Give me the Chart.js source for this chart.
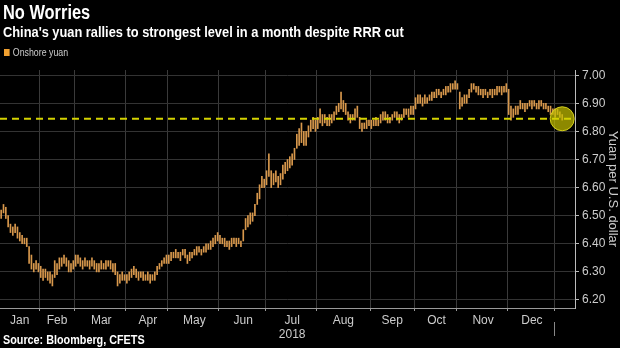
<!DOCTYPE html>
<html>
<head>
<meta charset="utf-8">
<script src="https://cdn.jsdelivr.net/npm/chart.js@4.4.1/dist/chart.umd.min.js"></script>
<style>
  body { margin: 0; background: #000; }
  #wrap { position: relative; width: 620px; height: 348px; overflow: hidden; font-family: 'Liberation Sans', Arial, sans-serif; }
  #grafico { position: absolute; left: 0; top: 0; }
  .titulo, .sub, .legenda, .fonte { position: absolute; white-space: nowrap; transform-origin: 0 0; }
  .titulo { left: 3px; top: 1px; color: #fff; font-weight: bold; font-size: 20px; transform: scaleX(0.82); }
  .sub { left: 3px; top: 23px; color: #fff; font-weight: bold; font-size: 15px; transform: scaleX(0.855); }
  .legenda { left: 4px; top: 46px; color: #ccc; font-size: 11px; transform: scaleX(0.8); }
  .legenda span { display: inline-block; width: 7px; height: 7px; background: #f0a030; margin-right: 4px; }
  .fonte { left: 3px; top: 333px; color: #fff; font-weight: bold; font-size: 12px; transform: scaleX(0.9); }
</style>
</head>
<body>
<div id="wrap">
  <canvas id="grafico" width="620" height="348"></canvas>
  <div class="titulo">No Worries</div>
  <div class="sub">China's yuan rallies to strongest level in a month despite RRR cut</div>
  <div class="legenda"><span></span>Onshore yuan</div>
  <div class="fonte">Source: Bloomberg, CFETS</div>
</div>
<script>
// trading days per month, Jan 2018 .. early Jan 2019
const meses = ["Jan", "Feb", "Mar", "Apr", "May", "Jun", "Jul", "Aug", "Sep", "Oct", "Nov", "Dec", "Jan"];
const diasUteis = [17, 15, 22, 18, 22, 20, 22, 23, 19, 18, 22, 20, 4];
const diasVazios = 5; // empty room at the right end of the axis

// daily low / high, yuan per dollar
const minimas = [
  6.49,6.51,6.49,6.46,6.44,6.43,6.44,6.42,6.41,6.40,6.40,6.39,6.33,6.31,6.30,6.31,6.30,
  6.28,6.27,6.28,6.27,6.26,6.25,6.28,6.29,6.31,6.32,6.33,6.32,6.30,6.30,6.31,
  6.32,6.33,6.32,6.31,6.32,6.32,6.31,6.32,6.31,6.30,6.30,6.31,6.31,6.31,6.32,6.31,6.30,6.29,6.25,6.26,6.27,6.27,
  6.26,6.27,6.28,6.29,6.28,6.27,6.28,6.27,6.27,6.27,6.26,6.27,6.27,6.29,6.31,6.32,6.33,6.33,
  6.33,6.34,6.35,6.35,6.35,6.34,6.36,6.35,6.33,6.34,6.35,6.36,6.36,6.37,6.36,6.37,6.37,6.38,6.38,6.39,6.40,6.41,
  6.40,6.40,6.39,6.39,6.38,6.39,6.40,6.39,6.40,6.39,6.41,6.45,6.46,6.47,6.48,6.50,6.54,6.56,6.60,6.60,
  6.61,6.64,6.60,6.61,6.62,6.60,6.61,6.63,6.65,6.66,6.67,6.68,6.70,6.74,6.75,6.76,6.75,6.75,6.78,6.80,6.81,6.80,
  6.81,6.83,6.82,6.83,6.82,6.82,6.83,6.84,6.86,6.87,6.88,6.87,6.86,6.84,6.83,6.84,6.84,6.85,6.81,6.80,6.81,6.81,6.82,
  6.81,6.82,6.82,6.82,6.83,6.84,6.84,6.83,6.83,6.84,6.85,6.84,6.83,6.84,6.85,6.86,6.85,6.86,6.86,
  6.88,6.90,6.90,6.89,6.90,6.90,6.91,6.91,6.92,6.92,6.93,6.92,6.93,6.93,6.94,6.94,6.95,6.95,
  6.95,6.88,6.89,6.90,6.90,6.92,6.94,6.95,6.94,6.93,6.93,6.92,6.93,6.92,6.93,6.92,6.93,6.93,6.94,6.93,6.94,6.94,
  6.86,6.84,6.85,6.86,6.86,6.88,6.88,6.87,6.88,6.89,6.88,6.89,6.88,6.88,6.89,6.88,6.88,6.87,6.86,6.86,
  6.85,6.86,6.85,6.84
];
const maximas = [
  6.52,6.54,6.53,6.50,6.47,6.46,6.47,6.46,6.44,6.43,6.42,6.42,6.39,6.36,6.33,6.34,6.33,
  6.32,6.31,6.31,6.30,6.30,6.29,6.34,6.33,6.35,6.35,6.36,6.35,6.34,6.33,6.34,
  6.36,6.36,6.35,6.34,6.35,6.34,6.34,6.35,6.34,6.33,6.33,6.34,6.33,6.34,6.34,6.34,6.33,6.33,6.30,6.29,6.30,6.29,
  6.29,6.30,6.31,6.32,6.31,6.30,6.30,6.30,6.29,6.30,6.29,6.29,6.30,6.32,6.33,6.34,6.35,6.36,
  6.36,6.37,6.37,6.38,6.37,6.37,6.38,6.38,6.36,6.37,6.37,6.38,6.39,6.39,6.38,6.39,6.40,6.40,6.41,6.42,6.43,6.44,
  6.43,6.42,6.42,6.41,6.41,6.42,6.42,6.42,6.42,6.41,6.45,6.49,6.50,6.51,6.51,6.54,6.58,6.61,6.64,6.63,
  6.66,6.72,6.66,6.65,6.66,6.64,6.65,6.68,6.69,6.70,6.71,6.72,6.74,6.79,6.81,6.83,6.80,6.80,6.82,6.84,6.85,6.84,
  6.85,6.88,6.86,6.86,6.85,6.86,6.86,6.87,6.89,6.90,6.94,6.91,6.90,6.87,6.86,6.86,6.88,6.89,6.85,6.83,6.83,6.84,6.84,
  6.84,6.84,6.85,6.84,6.86,6.87,6.87,6.86,6.85,6.86,6.87,6.87,6.86,6.86,6.88,6.88,6.88,6.89,6.89,
  6.92,6.93,6.93,6.92,6.93,6.92,6.93,6.94,6.94,6.95,6.95,6.94,6.95,6.96,6.96,6.97,6.97,6.98,
  6.97,6.94,6.92,6.93,6.93,6.95,6.97,6.97,6.96,6.96,6.95,6.95,6.95,6.94,6.95,6.95,6.95,6.96,6.96,6.96,6.96,6.97,
  6.95,6.89,6.88,6.89,6.89,6.91,6.90,6.90,6.90,6.91,6.91,6.91,6.90,6.91,6.91,6.90,6.90,6.89,6.89,6.88,
  6.88,6.88,6.87,6.86
];

const nivelAtual = 6.845; // dashed line + circle
const ticksY = [6.20, 6.30, 6.40, 6.50, 6.60, 6.70, 6.80, 6.90, 7.00];
const ticksYMenores = [6.25, 6.35, 6.45, 6.55, 6.65, 6.75, 6.85, 6.95];
const anoRotulo = "2018";

const FONTE = "'Liberation Sans', Arial, sans-serif";

// build category labels, month borders and label positions
const rotulos = [];
const inicioMes = [];
const rotuloNoIndice = {};
meses.forEach((m, k) => {
  const ini = rotulos.length;
  inicioMes.push(ini);
  for (let d = 0; d < diasUteis[k]; d++) rotulos.push(m + " " + (d + 1) + (k === 12 ? " 2019" : ""));
  if (k < 12) rotuloNoIndice[ini + Math.floor(diasUteis[k] / 2)] = m === "Jul" ? [m, anoRotulo] : m;
});
for (let i = 0; i < diasVazios; i++) rotulos.push("vazio " + i);
const bordas = inicioMes.slice(1);
const inicio2019 = inicioMes[12];

const faixas = minimas.map((lo, i) => [lo, maximas[i]]);
const ultimo = minimas.length - 1;
const circulo = rotulos.map((r, i) => (i === ultimo ? nivelAtual : null));

const linhaTracejada = {
  id: "linhaTracejada",
  afterDatasetsDraw(chart) {
    const { ctx, chartArea, scales } = chart;
    const y = scales.y.getPixelForValue(nivelAtual);
    ctx.save();
    ctx.strokeStyle = "#d4d200";
    ctx.lineWidth = 2;
    ctx.setLineDash([7, 5]);
    ctx.beginPath();
    ctx.moveTo(chartArea.left, y);
    ctx.lineTo(chartArea.right, y);
    ctx.stroke();
    // year separator below the axis
    const x = scales.x.getPixelForValue(inicio2019) - (scales.x.getPixelForValue(1) - scales.x.getPixelForValue(0)) / 2;
    ctx.setLineDash([]);
    ctx.lineWidth = 1;
    ctx.strokeStyle = "#888";
    ctx.beginPath();
    ctx.moveTo(Math.round(x) + 0.5, chartArea.bottom + 14);
    ctx.lineTo(Math.round(x) + 0.5, chartArea.bottom + 28);
    ctx.stroke();
    ctx.restore();
  }
};

const grafico = new Chart(document.getElementById("grafico").getContext("2d"), {
  type: "bar",
  data: {
    labels: rotulos,
    datasets: [
      {
        type: "line",
        data: circulo,
        showLine: false,
        pointRadius: 12,
        pointBackgroundColor: "rgba(195,190,0,0.72)",
        pointBorderColor: "rgba(225,220,30,0.9)",
        pointBorderWidth: 1
      },
      {
        type: "bar",
        data: faixas,
        backgroundColor: "#d8984c",
        barThickness: 1,
        grouped: false
      }
    ]
  },
  options: {
    responsive: false,
    animation: false,
    layout: { autoPadding: false, padding: { top: 70, left: 0, right: 0, bottom: 0 } },
    plugins: { legend: { display: false }, tooltip: { enabled: false } },
    scales: {
      x: {
        offset: true,
        grid: {
          offset: true,
          color: c => (bordas.includes(c.index) ? "#3a3a3a" : "transparent"),
          tickColor: c => (bordas.includes(c.index) ? "#999" : "transparent"),
          tickLength: 3
        },
        border: { color: "#999" },
        ticks: {
          autoSkip: false,
          maxRotation: 0,
          minRotation: 0,
          padding: 2,
          color: "#ccc",
          font: { family: FONTE, size: 12 },
          callback: (v, i) => rotuloNoIndice[i] || ""
        },
        afterFit: s => {
          s.height = 40;
          s.paddingLeft = 0;
          s.paddingRight = 0;
        }
      },
      y: {
        position: "right",
        min: 6.1715,
        max: 7.0185,
        afterBuildTicks: s => {
          s.ticks = ticksY.concat(ticksYMenores).sort((a, b) => a - b).map(v => ({ value: v }));
        },
        grid: {
          color: c => (c.tick && ticksY.includes(c.tick.value) ? "#333" : "transparent"),
          tickColor: c => (c.tick && ticksY.includes(c.tick.value) ? "#bbb" : "#777"),
          tickLength: 4
        },
        border: { color: "#bbb" },
        ticks: {
          padding: 3,
          color: "#ccc",
          font: { family: FONTE, size: 12 },
          callback: v => (ticksY.includes(v) ? v.toFixed(2) : "")
        },
        title: {
          display: true,
          text: "Yuan per U.S. dollar",
          color: "#ccc",
          font: { family: FONTE, size: 13 },
          padding: 0
        },
        afterFit: s => { s.width = 45; }
      }
    }
  },
  plugins: [linhaTracejada]
});
</script>
</body>
</html>
